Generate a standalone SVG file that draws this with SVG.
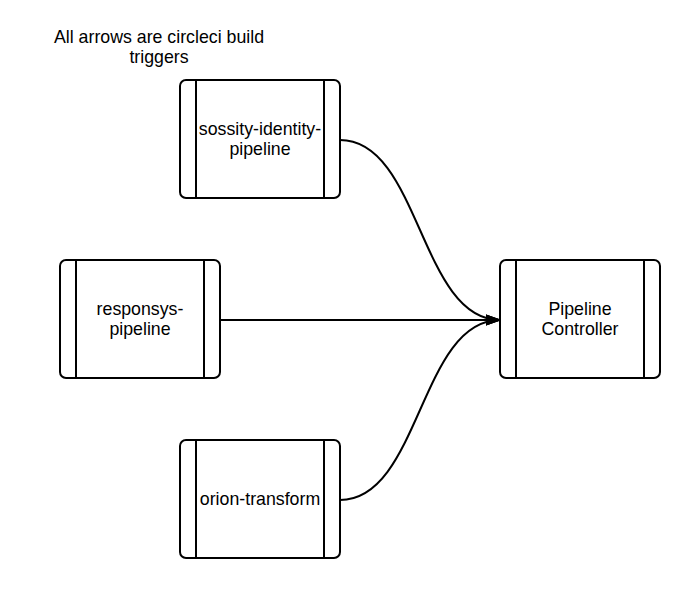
<svg xmlns="http://www.w3.org/2000/svg" width="700" height="600" viewBox="0 0 700 600">
<style>
.box{fill:#fff;stroke:#000;stroke-width:2}
.bar{stroke:#000;stroke-width:2}
.lbl{font-family:"Liberation Sans",Arial,sans-serif;font-size:17.75px;fill:#000;text-anchor:middle}
.edge{fill:none;stroke:#000;stroke-width:2}
</style>
<defs>
<marker id="arr" viewBox="0 0 10 10" refX="9" refY="5" markerWidth="8" markerHeight="8" orient="auto" markerUnits="strokeWidth">
<path d="M0,1.5 L10,5 L0,8.5 Z" fill="#000"/>
</marker>
</defs>
<rect width="700" height="600" fill="#fff"/>
<text class="lbl" x="159" y="43">All arrows are circleci build</text>
<text class="lbl" x="159" y="63">triggers</text>
<g id="connectors">
<path class="edge" d="M340,140 C420,140 420,320 500,320" marker-end="url(#arr)"/>
<path class="edge" d="M220,320 L500,320" marker-end="url(#arr)"/>
<path class="edge" d="M340,500 C420,500 420,320 500,320" marker-end="url(#arr)"/>
</g>
<g id="sossity">
<rect class="box" x="180" y="80" width="160" height="118" rx="6"/>
<line class="bar" x1="196" y1="80" x2="196" y2="198"/>
<line class="bar" x1="324" y1="80" x2="324" y2="198"/>
<text class="lbl" x="260" y="135">sossity-identity-</text>
<text class="lbl" x="260" y="155">pipeline</text>
</g>
<g id="responsys">
<rect class="box" x="60" y="260" width="160" height="118" rx="6"/>
<line class="bar" x1="76" y1="260" x2="76" y2="378"/>
<line class="bar" x1="204" y1="260" x2="204" y2="378"/>
<text class="lbl" x="140" y="315">responsys-</text>
<text class="lbl" x="140" y="335">pipeline</text>
</g>
<g id="orion">
<rect class="box" x="180" y="440" width="160" height="118" rx="6"/>
<line class="bar" x1="196" y1="440" x2="196" y2="558"/>
<line class="bar" x1="324" y1="440" x2="324" y2="558"/>
<text class="lbl" x="260" y="505">orion-transform</text>
</g>
<g id="controller">
<rect class="box" x="500" y="260" width="160" height="118" rx="6"/>
<line class="bar" x1="516" y1="260" x2="516" y2="378"/>
<line class="bar" x1="644" y1="260" x2="644" y2="378"/>
<text class="lbl" x="580" y="315">Pipeline</text>
<text class="lbl" x="580" y="335">Controller</text>
</g>
</svg>
